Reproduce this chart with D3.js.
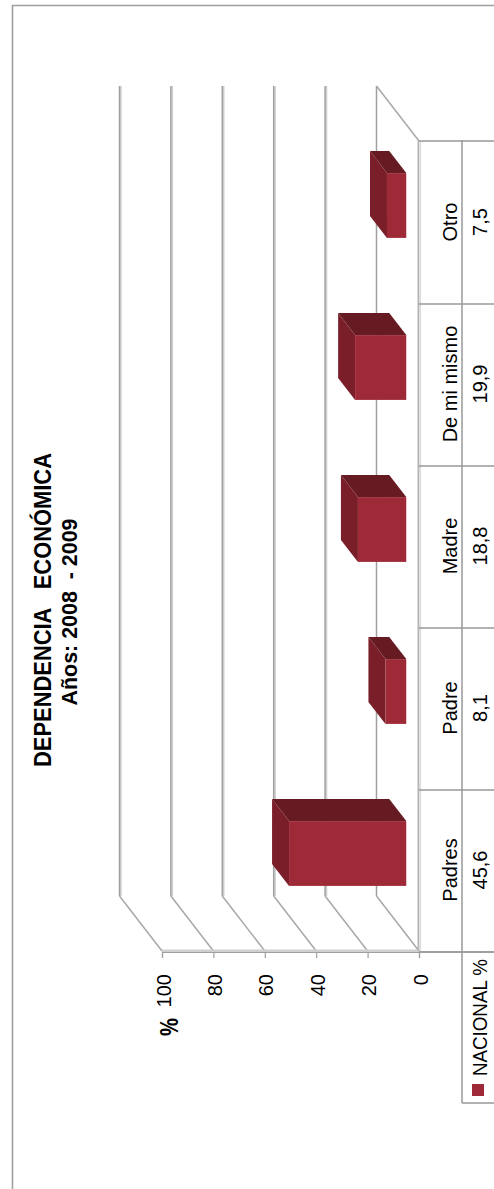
<!DOCTYPE html>
<html><head><meta charset="utf-8">
<script src="https://cdn.jsdelivr.net/npm/d3@7"></script>
<style>
html,body{margin:0;padding:0;background:#fff}
svg{display:block}
text{fill:#000}
</style></head><body>
<svg id="c" width="494" height="1189"></svg>
<script>
const categories = ["Padres","Padre","Madre","De mi mismo","Otro"];
const values = [45.6,8.1,18.8,19.9,7.5];
const valueLabels = ["45,6","8,1","18,8","19,9","7,5"];
const yTicks = [0,20,40,60,80,100];
const titleLines = ["DEPENDENCIA\u00A0\u00A0\u00A0ECONÓMICA","Años: 2008\u00A0\u00A0- 2009"];
const seriesName = "NACIONAL %";

const svg = d3.select("#c");
const sans = "'Liberation Sans', Arial, sans-serif";
const gray = "#a0a0a0", grayL = "#cfcfcf";
const front="#9e2937", side="#7a1f2a", topC="#661a22";

const x = d3.scaleLinear().domain([0,100]).range([419,162]);
const y = d3.scaleBand().domain(categories).range([951,141]);
const dx = 42.5, dy = 55;
const px = (v,d)=>x(v)-dx*d, py=(c,d)=>c-dy*d;
const yTop = y.range()[1], yBot = y.range()[0];

// outer frame
svg.append("path").attr("d","M494,5.5H12.5V1189").attr("fill","none").attr("stroke",gray).attr("stroke-width",1.6);

// back wall gridlines and side wall
const grid = svg.append("g");
yTicks.forEach(t=>{
  const xb = px(t,1);
  if(t!==0) grid.append("line").attr("x1",xb+1.4).attr("x2",xb+1.4).attr("y1",py(yTop,1)).attr("y2",py(yBot,1)).attr("stroke",grayL).attr("stroke-width",1.6);
  grid.append("line").attr("x1",xb).attr("x2",xb).attr("y1",py(yTop,1)).attr("y2",py(yBot,1)).attr("stroke",gray).attr("stroke-width",1.5);
  grid.append("line").attr("x1",xb).attr("x2",x(t)).attr("y1",py(yBot,1)).attr("y2",yBot).attr("stroke","#a8a8a8").attr("stroke-width",1.5);
});
grid.append("line").attr("x1",px(0,1)).attr("x2",x(0)).attr("y1",py(yTop,1)).attr("y2",yTop).attr("stroke","#a8a8a8").attr("stroke-width",1.5);

// bars
const dF=.30, dB=.70, half=y.bandwidth()*.2;
const bars = svg.append("g").selectAll("g").data(categories.map((c,i)=>({c,v:values[i]}))).join("g");
const cy = d=>y(d.c)+y.bandwidth()/2;
const poly = pts=>"M"+pts.map(p=>p.join(",")).join("L")+"Z";
bars.append("path").attr("fill",topC).attr("d",d=>poly([
  [px(0,dF),py(cy(d)-half,dF)],[px(d.v,dF),py(cy(d)-half,dF)],[px(d.v,dB),py(cy(d)-half,dB)],[px(0,dB),py(cy(d)-half,dB)]]));
bars.append("path").attr("fill",side).attr("d",d=>poly([
  [px(d.v,dF),py(cy(d)-half,dF)],[px(d.v,dB),py(cy(d)-half,dB)],[px(d.v,dB),py(cy(d)+half,dB)],[px(d.v,dF),py(cy(d)+half,dF)]]));
bars.append("rect").attr("fill",front)
  .attr("x",d=>px(d.v,dF)).attr("width",d=>px(0,dF)-px(d.v,dF))
  .attr("y",d=>py(cy(d)-half,dF)).attr("height",half*2);

// floor front edge and right edge with shading
svg.append("rect").attr("x",x(100)).attr("width",x(0)-x(100)).attr("y",949.5).attr("height",2.5).attr("fill","#cfcfcf");
svg.append("rect").attr("x",417.5).attr("width",1.8).attr("y",yTop).attr("height",yBot-yTop).attr("fill","#b4b4b4");
svg.append("rect").attr("x",419.3).attr("width",1.8).attr("y",yTop).attr("height",yBot-yTop).attr("fill","#dcdcdc");

// value axis
const ax = svg.append("g").attr("transform",`translate(0,${yBot+1})`)
  .call(d3.axisBottom(x).tickValues(yTicks).tickSize(6).tickPadding(0));
ax.select(".domain").attr("stroke",gray).attr("stroke-width",1.2);
ax.selectAll(".tick line").attr("stroke",gray).attr("stroke-width",1.2);
ax.selectAll(".tick text").attr("transform","translate(8,22) rotate(-90)").attr("x",0).attr("y",0).attr("dy",0)
  .attr("text-anchor","end").attr("font-family",sans).attr("font-size",20);

// table
const tbl = svg.append("g").attr("stroke","#989898").attr("stroke-width",1.5).attr("fill","none");
tbl.append("line").attr("x1",419).attr("x2",494).attr("y1",yTop).attr("y2",yTop);
tbl.append("line").attr("x1",462).attr("x2",462).attr("y1",yTop-1).attr("y2",1103);
categories.forEach(c=>tbl.append("line").attr("x1",419).attr("x2",494).attr("y1",y(c)+y.bandwidth()+1).attr("y2",y(c)+y.bandwidth()+1));
tbl.append("line").attr("x1",419).attr("x2",494).attr("y1",yBot+1).attr("y2",yBot+1);
tbl.append("line").attr("x1",462).attr("x2",494).attr("y1",1103).attr("y2",1103);

const lab = (g,xx,yy,t,size,anchor,weight,len)=>{
  const s=g.append("text").attr("transform",`translate(${xx},${yy}) rotate(-90)`)
  .attr("font-family",sans).attr("font-size",size).attr("text-anchor",anchor||"start").attr("font-weight",weight||"normal").text(t);
  if(len) s.attr("textLength",len).attr("lengthAdjust","spacingAndGlyphs");
  return s;
};
categories.forEach((c,i)=>{
  lab(svg,457,y(c)+y.bandwidth()/2,c,20,"middle");
  lab(svg,487,y(c)+y.bandwidth()/2,valueLabels[i],20,"middle");
});

// axis title
lab(svg,178,1036,"%",25,"start","bold",18);

// legend
svg.append("rect").attr("x",472).attr("y",1084).attr("width",12).attr("height",12).attr("fill",front);
lab(svg,487,1076,seriesName,20,"start","normal",117);

// titles
lab(svg,50.5,610,titleLines[0],23.3,"middle","bold",314);
lab(svg,76.5,612,titleLines[1],22.5,"middle","bold",187);
</script></body></html>
